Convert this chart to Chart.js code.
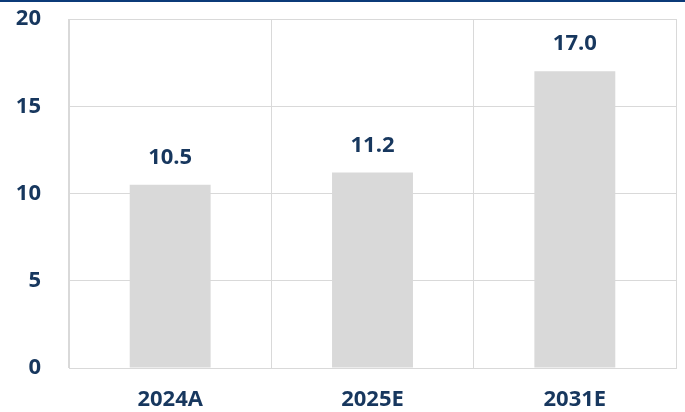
<!DOCTYPE html>
<html>
<head>
<meta charset="utf-8">
<script src="https://cdn.jsdelivr.net/npm/chart.js@4.4.1/dist/chart.umd.min.js"></script>
<style>
  html, body { margin: 0; padding: 0; background: #ffffff; }
  #wrap { width: 685px; height: 412px; position: relative; }
</style>
</head>
<body>
<div id="wrap"><canvas id="c" width="685" height="412"></canvas></div>
<script>
const categories = ['2024A', '2025E', '2031E'];
const values = [10.5, 11.2, 17.0];
const yTicks = [0, 5, 10, 15, 20];

const navy = '#17375e';
const gridColor = '#d9d9d9';
const fontFamily = "'Open Sans', 'Noto Sans', sans-serif";

const topBar = {
  id: 'topBar',
  beforeDraw(chart) {
    const ctx = chart.ctx;
    ctx.save();
    ctx.fillStyle = '#fff';
    ctx.fillRect(0, 0, chart.width, chart.height);
    ctx.fillStyle = '#0b3a78';
    ctx.fillRect(0, 0, chart.width, 2);
    ctx.restore();
  }
};

const valueLabels = {
  id: 'valueLabels',
  afterDatasetsDraw(chart) {
    const ctx = chart.ctx;
    const meta = chart.getDatasetMeta(0);
    ctx.save();
    ctx.font = "bold 22px " + fontFamily;
    ctx.fillStyle = navy;
    ctx.textAlign = 'center';
    ctx.textBaseline = 'alphabetic';
    meta.data.forEach((bar, i) => {
      ctx.fillText(values[i].toFixed(1), bar.x, bar.y - 21);
    });
    ctx.restore();
  }
};

new Chart(document.getElementById('c'), {
  type: 'bar',
  data: {
    labels: categories,
    datasets: [{
      data: values,
      backgroundColor: '#d9d9d9',
      borderWidth: 0,
      barPercentage: 0.4,
      categoryPercentage: 1.0
    }]
  },
  options: {
    responsive: false,
    animation: false,
    events: [],
    layout: { padding: { top: 19, right: 9, left: 0, bottom: 0 } },
    plugins: {
      legend: { display: false },
      tooltip: { enabled: false },
      title: { display: false }
    },
    scales: {
      x: {
        offset: true,
        grid: { display: true, offset: true, color: gridColor, lineWidth: 1, drawTicks: false },
        border: { display: true, color: gridColor, width: 1 },
        ticks: {
          color: navy,
          font: { family: fontFamily, size: 22, weight: 'bold' },
          padding: 19,
          maxRotation: 0
        },
        afterFit(scale) { scale.height = 44; scale.paddingLeft = 0; scale.paddingRight = 0; }
      },
      y: {
        min: 0,
        max: 20,
        afterBuildTicks(scale) { scale.ticks = yTicks.map(v => ({ value: v })); },
        grid: { color: gridColor, lineWidth: 1, drawTicks: false },
        border: { display: true, color: gridColor, width: 1 },
        ticks: {
          color: navy,
          font: { family: fontFamily, size: 22, weight: 'bold' },
          padding: 28
        },
        afterFit(scale) { scale.width = 69; scale.paddingTop = 0; scale.paddingBottom = 0; }
      }
    }
  },
  plugins: [topBar, valueLabels]
});
</script>
</body>
</html>
